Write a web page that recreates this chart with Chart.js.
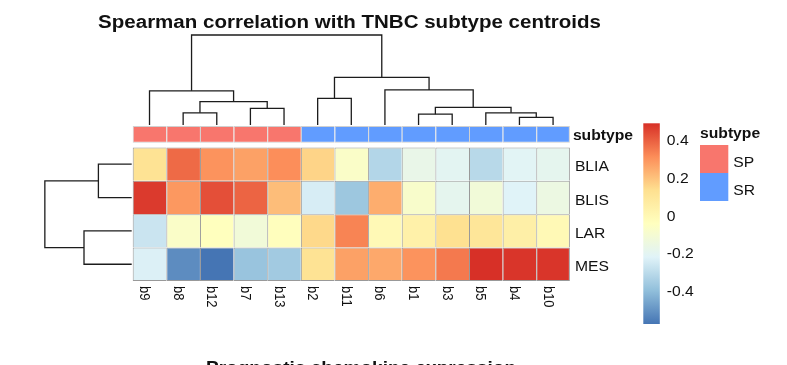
<!DOCTYPE html>
<html>
<head>
<meta charset="utf-8">
<script src="https://cdn.jsdelivr.net/npm/chart.js@4.4.1/dist/chart.umd.min.js"></script>
<style>
  html, body { margin: 0; padding: 0; background: #fff; }
  #wrap { position: relative; width: 787px; height: 365px; }
</style>
</head>
<body>
<div id="wrap"><canvas id="heat" width="787" height="365"></canvas></div>
<script>
// ---- data ----
const samples = ['b9', 'b8', 'b12', 'b7', 'b13', 'b2', 'b11', 'b6', 'b1', 'b3', 'b5', 'b4', 'b10'];
const sampleGroup = ['SP', 'SP', 'SP', 'SP', 'SP', 'SR', 'SR', 'SR', 'SR', 'SR', 'SR', 'SR', 'SR'];
const subtypes = ['BLIA', 'BLIS', 'LAR', 'MES'];

const blia = [0.12, 0.38, 0.30, 0.27, 0.31, 0.16, -0.07, -0.32, -0.17, -0.20, -0.31, -0.21, -0.19];
const blis = [0.47, 0.29, 0.43, 0.39, 0.21, -0.24, -0.37, 0.245, -0.08, -0.19, -0.12, -0.22, -0.15];
const lar  = [-0.27, -0.07, -0.04, -0.12, -0.035, 0.15, 0.33, -0.01, 0.04, 0.13, 0.10, 0.05, -0.01];
const mes  = [-0.23, -0.52, -0.575, -0.38, -0.36, 0.12, 0.27, 0.255, 0.30, 0.35, 0.49, 0.48, 0.48];

const colorTicks = [0.4, 0.2, 0, -0.2, -0.4];
const groupLevels = ['SP', 'SR'];
const groupColors = ['#F8766D', '#619CFF'];

// column clustering (hclust style: names are leaves, numbers point to earlier merges)
const colMerge = [['b4', 'b10'], ['b1', 'b3'], ['b8', 'b12'], ['b5', 1], ['b7', 'b13'], [2, 4],
                  [3, 5], ['b2', 'b11'], ['b9', 7], ['b6', 6], [8, 10], [9, 11]];
const colHeight = [0.17, 0.24, 0.27, 0.27, 0.37, 0.39, 0.52, 0.59, 0.76, 0.78, 1.06, 2.0];
// row clustering
const rowMerge = [['BLIA', 'BLIS'], ['LAR', 'MES'], [1, 2]];
const rowHeight = [0.74, 1.06, 1.93];

// ---- layout (pixels) ----
const CELL_W = 33.63, CELL_H = 33.35;
const HM_LEFT = 132.7, HM_TOP = 147.5;
const ANNOT_TOP = 126, ANNOT_BOTTOM = 142.7;
const DENDRO_PX = 45;          // pixels per unit of dendrogram height
const COL_DENDRO_BASE = 125;   // y of column dendrogram leaves
const ROW_DENDRO_BASE = 131.7; // x of row dendrogram leaves
const SX = 1.12;               // horizontal stretch of text
const FONT = '"Liberation Sans", Arial, sans-serif';

const rows = [blia, blis, lar, mes];
const all = rows.flat();
const vmin = Math.min(...all), vmax = Math.max(...all);
const palette = ['#4575B4', '#91BFDB', '#E0F3F8', '#FFFFBF', '#FEE090', '#FC8D59', '#D73027'];

function hexRgb(h) {
  return [parseInt(h.slice(1, 3), 16), parseInt(h.slice(3, 5), 16), parseInt(h.slice(5, 7), 16)];
}
function colorFor(v) {
  let t = (v - vmin) / (vmax - vmin) * (palette.length - 1);
  let i = Math.min(palette.length - 2, Math.max(0, Math.floor(t)));
  let f = t - i;
  let a = hexRgb(palette[i]), b = hexRgb(palette[i + 1]);
  let c = a.map((x, k) => Math.round(x + (b[k] - x) * f));
  return 'rgb(' + c.join(',') + ')';
}

// convert pixel layout to data units of the chart
const uOfPx = px => (px - HM_LEFT) / CELL_W;
const vOfPy = py => (py - HM_TOP) / CELL_H;

function dendroPaths(leaves, merges, heights) {
  const nodes = [];
  const paths = [];
  merges.forEach(function(m, k) {
    const ends = m.map(function(n) {
      return typeof n === 'string' ? { pos: leaves.indexOf(n) + 0.5, h: 0 } : nodes[n - 1];
    });
    const h = heights[k];
    paths.push([[ends[0].pos, ends[0].h], [ends[0].pos, h], [ends[1].pos, h], [ends[1].pos, ends[1].h]]);
    nodes.push({ pos: (ends[0].pos + ends[1].pos) / 2, h: h });
  });
  return paths;
}

var datasets = [];

// heatmap rows as floating bars
rows.forEach(function(vals, r) {
  datasets.push({
    type: 'bar',
    label: subtypes[r],
    data: vals.map((v, i) => ({ x: i + 0.5, y: [r, r + 1] })),
    backgroundColor: vals.map(colorFor),
    borderColor: '#999999',
    borderWidth: function(ctx) {
      return { top: 1, left: 1, right: ctx.dataIndex === samples.length - 1 ? 1 : 0, bottom: r === rows.length - 1 ? 1 : 0 };
    },
    borderSkipped: false,
    inflateAmount: 0,
    grouped: false,
    barPercentage: 1,
    categoryPercentage: 1
  });
});

// annotation bar
datasets.push({
  type: 'bar',
  label: 'subtype',
  data: samples.map((s, i) => ({ x: i + 0.5, y: [vOfPy(ANNOT_TOP), vOfPy(ANNOT_BOTTOM)] })),
  backgroundColor: sampleGroup.map(g => groupColors[groupLevels.indexOf(g)]),
  borderColor: 'rgba(150,150,150,0.45)',
  borderWidth: function(ctx) {
    return { top: 1, left: 1, bottom: 1, right: ctx.dataIndex === samples.length - 1 ? 1 : 0 };
  },
  borderSkipped: false,
  inflateAmount: 0,
  grouped: false,
  barPercentage: 1,
  categoryPercentage: 1
});

// column dendrogram
dendroPaths(samples, colMerge, colHeight).forEach(function(p) {
  datasets.push({
    type: 'line',
    data: p.map(q => ({ x: q[0], y: vOfPy(COL_DENDRO_BASE - q[1] * DENDRO_PX) })),
    borderColor: '#1c1c1c', borderWidth: 1.3, pointRadius: 0, fill: false, tension: 0
  });
});
// row dendrogram
dendroPaths(subtypes, rowMerge, rowHeight).forEach(function(p) {
  datasets.push({
    type: 'line',
    data: p.map(q => ({ x: uOfPx(ROW_DENDRO_BASE - q[1] * DENDRO_PX), y: q[0] })),
    borderColor: '#1c1c1c', borderWidth: 1.3, pointRadius: 0, fill: false, tension: 0
  });
});

function sText(ctx, txt, x, y, font, align, sx) {
  ctx.save();
  ctx.font = font;
  ctx.textBaseline = 'alphabetic';
  ctx.textAlign = align || 'left';
  ctx.translate(x, y);
  ctx.scale(sx || SX, 1);
  ctx.fillText(txt, 0, 0);
  ctx.restore();
}

const decor = {
  id: 'decor',
  afterDatasetsDraw: function(chart) {
    const ctx = chart.ctx;
    const xs = chart.scales.x, ys = chart.scales.y;
    const hmRight = xs.getPixelForValue(samples.length);
    ctx.save();
    ctx.fillStyle = '#111';
    // title
    sText(ctx, 'Spearman correlation with TNBC subtype centroids', 349.5, 27.5, 'bold 18px ' + FONT, 'center', 1.14);
    // next figure's title, cut by the bottom edge
    sText(ctx, 'Prognostic chemokine expression', 361, 373, 'bold 17px ' + FONT, 'center');
    // row labels
    subtypes.forEach(function(s, r) {
      sText(ctx, s, hmRight + 5, ys.getPixelForValue(r + 0.5) + 7, '14px ' + FONT);
    });
    // annotation label
    sText(ctx, 'subtype', hmRight + 3, 139.5, 'bold 14px ' + FONT);
    // column labels, rotated
    samples.forEach(function(s, i) {
      ctx.save();
      ctx.font = '13px ' + FONT;
      ctx.textBaseline = 'alphabetic';
      ctx.textAlign = 'left';
      ctx.translate(xs.getPixelForValue(i + 0.5) - 9.5, ys.getPixelForValue(rows.length) + 5);
      ctx.rotate(Math.PI / 2);
      ctx.scale(1, SX);
      ctx.fillText(s, 0, 0);
      ctx.restore();
    });
    // colour key
    const kx = 643.3, kw = 16.5, ktop = 123.3, kbot = 324;
    const g = ctx.createLinearGradient(0, kbot, 0, ktop);
    palette.forEach((c, i) => g.addColorStop(i / (palette.length - 1), c));
    ctx.fillStyle = g;
    ctx.fillRect(kx, ktop, kw, kbot - ktop);
    ctx.fillStyle = '#111';
    colorTicks.forEach(function(t) {
      const py = kbot - (t - vmin) / (vmax - vmin) * (kbot - ktop);
      sText(ctx, String(t), kx + kw + 7, py + 5, '14px ' + FONT);
    });
    // annotation legend
    sText(ctx, 'subtype', 700, 138, 'bold 14px ' + FONT);
    const lx = 700, lw = 28.3, ly = 145, lh = 28;
    groupLevels.forEach(function(lv, i) {
      ctx.fillStyle = groupColors[i];
      ctx.fillRect(lx, ly + i * lh, lw, lh);
      ctx.fillStyle = '#111';
      sText(ctx, lv, lx + lw + 5, ly + i * lh + 21.5, '14px ' + FONT);
    });
    ctx.restore();
  }
};

new Chart(document.getElementById('heat').getContext('2d'), {
  type: 'bar',
  data: { datasets: datasets },
  options: {
    responsive: false,
    animation: false,
    events: [],
    layout: { padding: 0 },
    plugins: { legend: { display: false }, tooltip: { enabled: false }, title: { display: false } },
    scales: {
      x: { type: 'linear', display: false, offset: false, grid: { offset: false }, min: uOfPx(0), max: uOfPx(787) },
      y: { type: 'linear', display: false, reverse: true, min: vOfPy(0), max: vOfPy(365) }
    }
  },
  plugins: [decor]
});
</script>
</body>
</html>
